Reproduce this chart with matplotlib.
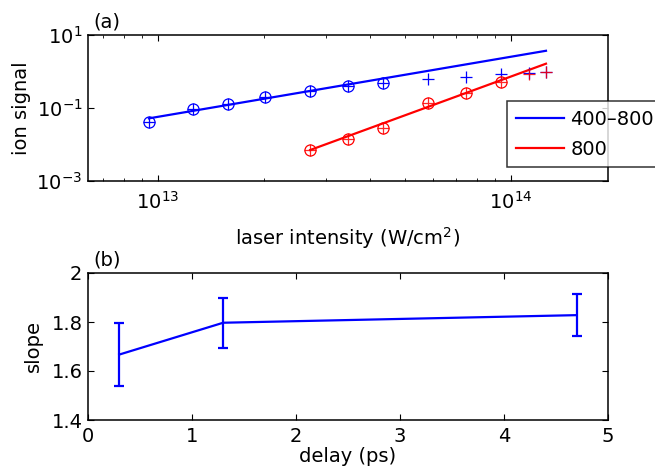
import numpy as np
import matplotlib
matplotlib.use("Agg")
import matplotlib.pyplot as plt
from matplotlib.ticker import FixedLocator, FuncFormatter, LogLocator, NullLocator

plt.rcParams['font.family'] = ['DejaVu Sans']
plt.rcParams['mathtext.default'] = 'regular'
plt.rcParams['font.size'] = 14

# ---- data panel (a) ----
intensity_blue = [9.43e12, 1.257e13, 1.578e13, 2.01e13, 2.70e13, 3.45e13, 4.34e13,
                  5.82e13, 7.46e13, 9.37e13, 1.125e14, 1.257e14]
signal_blue = [0.042, 0.094, 0.126, 0.196, 0.29, 0.40, 0.49,
               0.62, 0.72, 0.84, 0.89, 0.99]
n_fit_blue = 7  # number of points circled / used in fit

intensity_red = [2.70e13, 3.45e13, 4.34e13, 5.82e13, 7.46e13, 9.37e13, 1.125e14, 1.257e14]
signal_red = [0.00706, 0.0142, 0.0289, 0.14, 0.252, 0.526, 0.855, 0.99]
n_fit_red = 6

# power-law fits: y = A * (I/1e13)^n
fit_blue_A, fit_blue_n = 0.0573, 1.646
fit_red_A, fit_red_n = 2.10e-4, 3.54

legend_labels = ['400\u2013800', '800']

# ---- data panel (b) ----
delay = [0.3, 1.3, 4.7]
slope = [1.667, 1.797, 1.828]
slope_err = [0.128, 0.102, 0.087]

blue = '#0000ff'
red = '#ff0000'

W, H = 655, 474
fig = plt.figure(figsize=(6.55, 4.74), dpi=100)
ax1 = fig.add_axes([88 / W, 1 - 181 / H, 520 / W, 146 / H])
ax2 = fig.add_axes([88 / W, 1 - 420 / H, 520 / W, 147 / H])

ib = np.array(intensity_blue); sb = np.array(signal_blue)
ir = np.array(intensity_red); sr = np.array(signal_red)

xb = np.array([ib[0], ib[-1]])
xr = np.array([ir[0], ir[-1]])
lb, = ax1.plot(xb, fit_blue_A * (xb / 1e13) ** fit_blue_n, color=blue, lw=1.6)
lr, = ax1.plot(xr, fit_red_A * (xr / 1e13) ** fit_red_n, color=red, lw=1.6)

ax1.plot(ib, sb, '+', color=blue, ms=8, mew=0.9)
ax1.plot(ib[:n_fit_blue], sb[:n_fit_blue], 'o', color=blue, mfc='none', ms=8, mew=0.9)
ax1.plot(ir, sr, '+', color=red, ms=8, mew=0.9, alpha=0.85)
ax1.plot(ir[:n_fit_red], sr[:n_fit_red], 'o', color=red, mfc='none', ms=8, mew=0.9)

ax1.set_xscale('log')
ax1.set_yscale('log')
ax1.set_xlim(10 ** 12.802, 10 ** 14.275)
ax1.set_ylim(1e-3, 1e1)
ax1.yaxis.set_major_locator(FixedLocator([1e-3, 1e-1, 1e1]))
ax1.yaxis.set_minor_locator(NullLocator())
ax1.xaxis.set_major_locator(FixedLocator([1e13, 1e14]))
ax1.xaxis.set_minor_locator(LogLocator(base=10, subs=np.arange(2, 10)))
fmt = FuncFormatter(lambda v, p: r'$10^{%d}$' % int(round(np.log10(v))))
ax1.xaxis.set_major_formatter(fmt)
ax1.yaxis.set_major_formatter(fmt)
ax1.xaxis.set_minor_formatter(FuncFormatter(lambda v, p: ''))
ax1.set_xlabel('laser intensity (W/cm$^{2}$)', labelpad=9)
ax1.set_ylabel('ion signal', labelpad=4)
ax1.text(5 / 520, 1 + 3 / 146, '(a)', transform=ax1.transAxes, ha='left', va='bottom')

ax2.errorbar(delay, slope, yerr=slope_err, color=blue, lw=1.6, elinewidth=1.6,
             capsize=3.3, capthick=1.6)
ax2.set_xlim(0, 5)
ax2.set_ylim(1.4, 2.0)
ax2.set_xticks([0, 1, 2, 3, 4, 5])
ax2.set_yticks([1.4, 1.6, 1.8, 2.0])
ax2.yaxis.set_major_formatter(FuncFormatter(lambda v, p: ('%g' % round(v, 1))))
ax2.set_xlabel('delay (ps)', labelpad=1)
ax2.set_ylabel('slope', labelpad=6)
ax2.text(5 / 520, 1 + 3 / 147, '(b)', transform=ax2.transAxes, ha='left', va='bottom')

for ax in (ax1, ax2):
    for s in ax.spines.values():
        s.set_linewidth(1.1)
    ax.tick_params(which='both', direction='in', top=True, right=True, labelsize=14)
    ax.tick_params(which='major', length=4, width=0.8)
    ax.tick_params(which='minor', length=2.5, width=0.6)
    ax.tick_params(axis='y', pad=4)
ax1.tick_params(axis='x', pad=7)
ax2.tick_params(axis='x', pad=5)

leg = fig.legend([lb, lr], legend_labels, loc='upper left',
                 bbox_to_anchor=(507 / W, 1 - 101 / H), fontsize=14, handlelength=2.5,
                 frameon=True, fancybox=False, edgecolor='black', borderpad=0.45,
                 labelspacing=0.56, handletextpad=0.3, borderaxespad=0)
leg.get_frame().set_linewidth(1.1)

fig.savefig('out.png', dpi=100)
